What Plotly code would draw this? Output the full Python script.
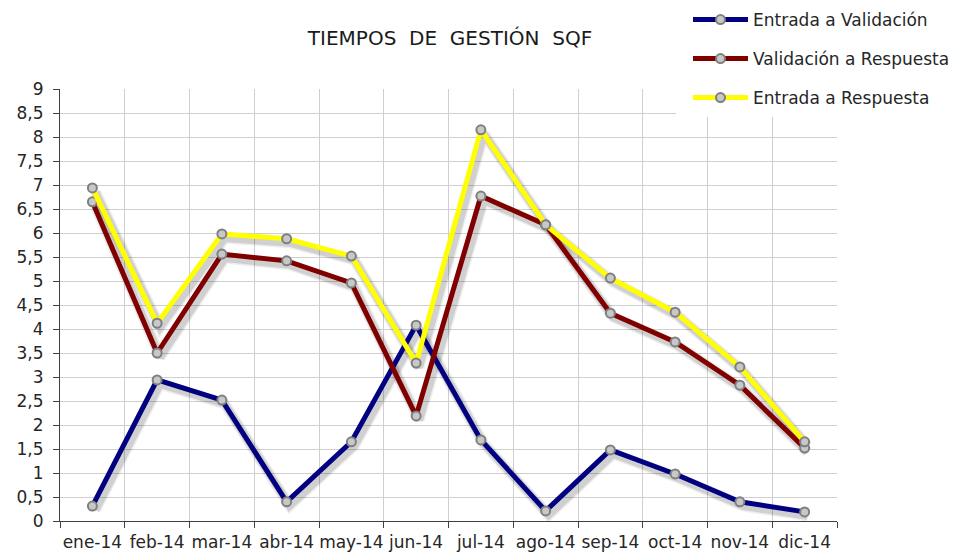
import plotly.graph_objects as go

months = ["ene-14", "feb-14", "mar-14", "abr-14", "may-14", "jun-14",
          "jul-14", "ago-14", "sep-14", "oct-14", "nov-14", "dic-14"]
entrada_validacion = [0.31, 2.94, 2.52, 0.40, 1.65, 4.08, 1.69, 0.21, 1.48, 0.98, 0.40, 0.19]
validacion_respuesta = [6.65, 3.50, 5.56, 5.42, 4.96, 2.19, 6.77, 6.17, 4.33, 3.73, 2.83, 1.52]
entrada_respuesta = [6.94, 4.12, 5.98, 5.88, 5.52, 3.29, 8.15, 6.17, 5.06, 4.35, 3.21, 1.65]
y_ticks = [i * 0.5 for i in range(19)]
y_tick_labels = [("%g" % v).replace(".", ",") for v in y_ticks]

series = [
    ("Entrada a Validación", entrada_validacion, "#000080", "legend"),
    ("Validación a Respuesta", validacion_respuesta, "#800000", "legend2"),
    ("Entrada a Respuesta", entrada_respuesta, "#FFFF00", "legend3"),
]

W, H = 963, 555
L, R, T, B = 60, 837, 89, 521
FONT = "DejaVu Sans"

def px_x(p):
    return p / W

def px_y(p):
    return 1 - p / H

fig = go.Figure()

# helper trace on the visible axes (keeps categories)
fig.add_trace(go.Scatter(x=months, y=entrada_respuesta, mode="lines",
                         line=dict(color="rgba(0,0,0,0)", width=0),
                         showlegend=False, hoverinfo="skip",
                         xaxis="x", yaxis="y"))

# shadows (soft, offset down-right)
for width, alpha in ((11, 0.07), (8, 0.12)):
    for name, vals, color, lg in series:
        fig.add_trace(go.Scatter(x=months, y=vals, mode="lines",
                                 line=dict(color="rgba(0,0,0,%g)" % alpha, width=width),
                                 showlegend=False, hoverinfo="skip",
                                 xaxis="x2", yaxis="y2"))

# main lines
for name, vals, color, lg in series:
    fig.add_trace(go.Scatter(x=months, y=vals, mode="lines+markers", name=name,
                             line=dict(color=color, width=5),
                             marker=dict(size=9, color="#c8c8c8",
                                         line=dict(color="#7f7f7f", width=2)),
                             legend=lg, xaxis="x3", yaxis="y3"))

xcommon = dict(type="category", categoryarray=months, range=[-0.5, 11.5])
ycommon = dict(range=[0, 9])

fig.update_layout(
    width=W, height=H,
    margin=dict(l=0, r=0, t=0, b=0),
    paper_bgcolor="white", plot_bgcolor="rgba(0,0,0,0)",
    font=dict(family=FONT, size=16, color="#262626"),
    title=dict(text="TIEMPOS\u00a0 DE\u00a0 GESTIÓN\u00a0 SQF", x=px_x(450), xanchor="center",
               y=px_y(38), yanchor="middle",
               font=dict(family=FONT, size=20, color="#1a1a1a")),
    xaxis=dict(**xcommon, domain=[px_x(L), px_x(R)], anchor="y",
               showgrid=True, gridcolor="#cfcfcf", gridwidth=1,
               tickson="boundaries", ticks="outside", ticklen=6,
               tickcolor="#404040", showline=True, linecolor="#404040",
               linewidth=1, automargin=False, ticklabelstandoff=6,
               tickangle=0,
               tickfont=dict(family=FONT, size=17, color="#262626")),
    yaxis=dict(**ycommon, domain=[px_y(B), px_y(T)], anchor="x",
               tickvals=y_ticks, ticktext=y_tick_labels,
               showgrid=True, gridcolor="#cfcfcf", gridwidth=1,
               ticks="outside", ticklen=6, tickcolor="#404040",
               showline=True, linecolor="#404040", linewidth=1,
               zeroline=False, automargin=False, ticklabelstandoff=6,
               tickfont=dict(family=FONT, size=17, color="#262626")),
    xaxis2=dict(**xcommon, domain=[px_x(L + 3), px_x(R + 3)], anchor="y2",
                visible=False),
    yaxis2=dict(**ycommon, domain=[px_y(B + 4), px_y(T + 4)], anchor="x2",
                visible=False),
    xaxis3=dict(**xcommon, domain=[px_x(L), px_x(R)], anchor="y3",
                visible=False),
    yaxis3=dict(**ycommon, domain=[px_y(B), px_y(T)], anchor="x3",
                visible=False),
    shapes=[dict(type="rect", xref="paper", yref="paper",
                 x0=px_x(676), x1=1, y0=px_y(117), y1=1,
                 fillcolor="white", line=dict(width=0), layer="above")],
)

legend_style = dict(xanchor="left", yanchor="middle", bgcolor="rgba(0,0,0,0)",
                    font=dict(family=FONT, size=17, color="#262626"),
                    itemwidth=55)
for key, yc in (("legend", 20), ("legend2", 59), ("legend3", 98)):
    fig.update_layout({key: dict(**legend_style, x=px_x(688), y=px_y(yc))})

fig.write_html("out.html", config={"displayModeBar": False},
               post_script="document.body.style.margin='0';document.body.style.overflow='hidden';")
